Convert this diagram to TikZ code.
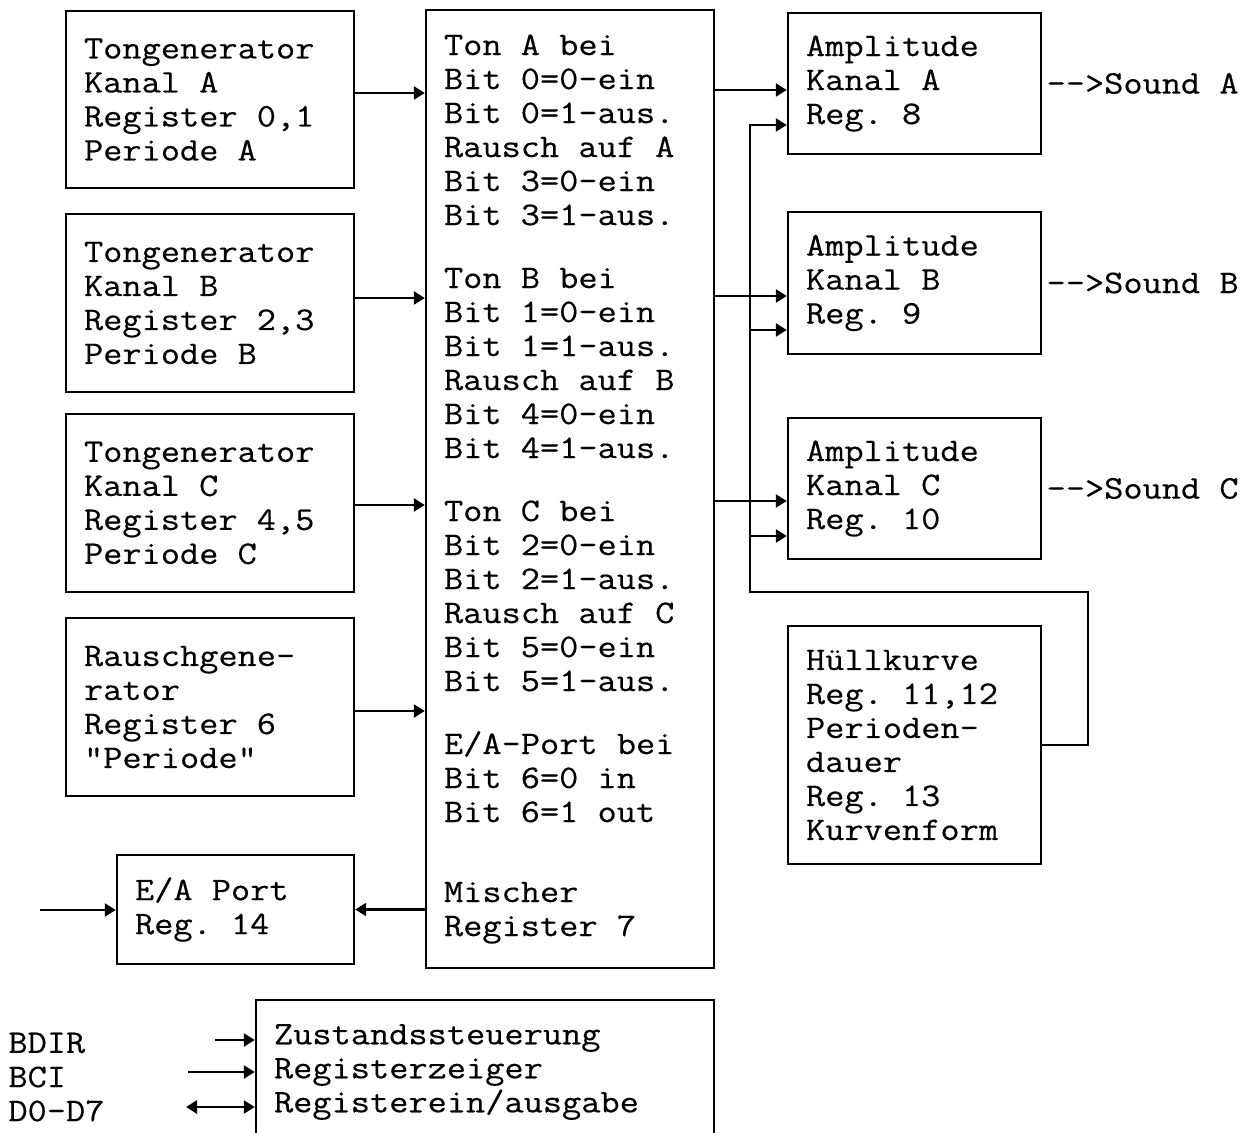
\documentclass[tikz,border=0pt]{standalone}
\usepackage{fontspec}
\setmonofont[FakeStretch=1.13, FakeBold=0.4]{Latin Modern Mono}
\usepackage{tikz}
\usetikzlibrary{arrows.meta, positioning}

\newcommand{\chipfont}{\ttfamily\fontsize{16.5pt}{17pt}\selectfont}

\begin{document}
\begin{tikzpicture}[x=0.5pt, y=-0.5pt,
        rbox/.style={rectangle, draw=black, line width=1.2pt, align=flush left, inner xsep=9pt, inner ysep=0pt, font=\chipfont},
        genbox/.style={rbox, text width=126pt},
        ampbox/.style={rbox, text width=108.5pt},
        lbl/.style={inner sep=0pt, anchor=west, font=\chipfont},
        wire/.style={draw=black, line width=1.2pt, -{Triangle[length=5.5pt, width=6.5pt]}},
        dwire/.style={draw=black, line width=1.2pt, {Triangle[length=5.5pt, width=6.5pt]}-{Triangle[length=5.5pt, width=6.5pt]}}
    ]
        \clip (0,0) rectangle (1246,1133);

        % Tongeneratoren und Rauschgenerator links
        \node [genbox, minimum height=88.5pt] (tga) at (210,99.5) {Tongenerator\\Kanal A\\Register 0,1\\Periode A};
        \node [genbox, minimum height=89pt] (tgb) at (210,303) {Tongenerator\\Kanal B\\Register 2,3\\Periode B};
        \node [genbox, minimum height=89pt] (tgc) at (210,503) {Tongenerator\\Kanal C\\Register 4,5\\Periode C};
        \node [genbox, minimum height=89pt] (rausch) at (210,707) {Rauschgene-\\rator\\Register 6\\"Periode"};
        \node [rbox, text width=100.5pt, minimum height=54.5pt] (eaport) at (235.5,909.5) {E/A Port\\Reg. 14};

        % Mischer in der Mitte
        \node [genbox, minimum height=479pt] (mischer) at (570,489) {Ton A bei\\Bit 0=0-ein\\Bit 0=1-aus.\\Rausch auf A\\Bit 3=0-ein\\Bit 3=1-aus.\\[14.5pt]
            Ton B bei\\Bit 1=0-ein\\Bit 1=1-aus.\\Rausch auf B\\Bit 4=0-ein\\Bit 4=1-aus.\\[14.5pt]
            Ton C bei\\Bit 2=0-ein\\Bit 2=1-aus.\\Rausch auf C\\Bit 5=0-ein\\Bit 5=1-aus.\\[14.5pt]
            E/A-Port bei\\Bit 6=0 in\\Bit 6=1 out\\[23pt]
            Mischer\\Register 7};

        % Amplitudenregler und Huellkurve rechts
        \node [ampbox, minimum height=70.5pt] (ampa) at (914.5,83.5) {Amplitude\\Kanal A\\Reg. 8};
        \node [ampbox, minimum height=71pt] (ampb) at (914.5,283) {Amplitude\\Kanal B\\Reg. 9};
        \node [ampbox, minimum height=70.5pt] (ampc) at (914.5,488.5) {Amplitude\\Kanal C\\Reg. 10};
        \node [ampbox, minimum height=119pt] (huell) at (914.5,745) {Hüllkurve\\Reg. 11,12\\Perioden-\\dauer\\Reg. 13\\Kurvenform};

        \node [lbl] (sounda) at ([xshift=2pt]ampa.east) {-{}->Sound A};
        \node [lbl] (soundb) at ([xshift=2pt]ampb.east) {-{}->Sound B};
        \node [lbl] (soundc) at ([xshift=2pt]ampc.east) {-{}->Sound C};

        % Steuerung unten
        \node [rbox, text width=211pt, minimum height=72pt] (zustand) at (485,1072) {Zustandssteuerung\\Registerzeiger\\Registerein/ausgabe};
        \node [lbl] (bdir) at (8,1043) {BDIR};
        \node [lbl] (bci) at (8,1077) {BCI};
        \node [lbl] (dbus) at (8,1111) {D0-D7};

        % Verbindungen zum Mischer
        \foreach \n/\y in {tga/93, tgb/298, tgc/505, rausch/711}
            \draw [wire] (\n.east |- 0,\y) -- (mischer.west |- 0,\y);
        \draw [wire] (mischer.west |- eaport.east) -- (eaport.east);
        \coordinate (eain) at (40,910);
        \draw [wire] (eain) -- (eain -| eaport.west);

        % Mischer zu den Amplituden
        \foreach \n/\y in {ampa/90, ampb/296, ampc/501}
            \draw [wire] (mischer.east |- 0,\y) -- (\n.west |- 0,\y);

        % Huellkurve an alle drei Kanaele
        \coordinate (knick) at (750,592);
        \draw [wire] (huell.east) -- ++(46,0) |- (knick) |- (ampa.west |- 0,125);
        \foreach \n/\y in {ampb/330, ampc/536}
            \draw [wire] (knick |- 0,\y) -- (\n.west |- 0,\y);

        % Busleitungen
        \coordinate (bdirin) at (215,1040);
        \coordinate (bciin) at (188,1072);
        \coordinate (dbusin) at (186,1107);
        \draw [wire] (bdirin) -- (bdirin -| zustand.west);
        \draw [wire] (bciin) -- (bciin -| zustand.west);
        \draw [dwire] (dbusin) -- (dbusin -| zustand.west);
    \end{tikzpicture}
\end{document}
